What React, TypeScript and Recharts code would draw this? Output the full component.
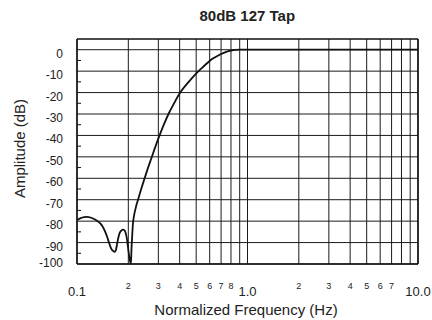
import React from "react";
import {
  LineChart,
  Line,
  XAxis,
  YAxis,
  CartesianGrid,
  ReferenceLine,
  Label,
} from "recharts";

// Filter response: normalized frequency (Hz) and amplitude (dB)
const frequency = [
  0.1, 0.105, 0.11, 0.114, 0.12, 0.125, 0.131, 0.137, 0.142, 0.146, 0.15,
  0.154, 0.158, 0.162, 0.166, 0.169, 0.172, 0.175, 0.178, 0.182, 0.186, 0.19,
  0.193, 0.196, 0.199, 0.202, 0.207, 0.209, 0.211, 0.213, 0.216, 0.22, 0.224,
  0.228, 0.237, 0.248, 0.26, 0.274, 0.289, 0.305, 0.323, 0.344, 0.371, 0.403,
  0.452, 0.516, 0.558, 0.604, 0.65, 0.7, 0.75, 0.8, 0.85, 0.9, 1, 2, 5, 10,
];
const amplitude = [
  -79.5, -78.6, -78.1, -78.0, -78.3, -78.9, -79.8, -81, -82.8, -84.8, -87.2,
  -90, -92.5, -93.8, -94.3, -93.5, -90.5, -87.5, -85.5, -84.4, -84, -84.3,
  -85.5, -88, -92, -96, -100, -92, -86, -81, -77.5, -74.5, -72, -70, -65.5,
  -60.5, -55.5, -50.3, -45, -40, -35, -30, -25, -20, -15, -10, -7.5, -5, -3.4,
  -2, -1, -0.4, -0.1, 0, 0, 0, 0, 0,
];

// Logarithmic x grid and its labels (empty string = unlabelled grid line)
const xTicks = [
  0.1, 0.2, 0.3, 0.4, 0.5, 0.6, 0.7, 0.8, 0.9, 1, 2, 3, 4, 5, 6, 7, 8, 9, 10,
];
const xTickLabels = [
  "0.1", "2", "3", "4", "5", "6", "7", "8", "", "1.0", "2", "3", "4", "5",
  "6", "7", "", "", "10.0",
];
const xMajorLabels = ["0.1", "1.0", "10.0"];

const yMajor = [0, -10, -20, -30, -40, -50, -60, -70, -80, -90, -100];
const yMinor = [-5, -15, -25, -35, -45, -55, -65, -75, -85, -95];
const yTicks = [...yMajor, ...yMinor].sort((a, b) => a - b);

const data = frequency.map((f, i) => ({ f, amp: amplitude[i] }));

const FONT = "'Liberation Sans', Arial, Helvetica, sans-serif";

const XTick = (props: any) => {
  const { x, y, payload } = props;
  const idx = xTicks.indexOf(payload.value);
  const label = idx >= 0 ? xTickLabels[idx] : "";
  if (!label) return <g />;
  const major = xMajorLabels.includes(label);
  return (
    <text
      x={x}
      y={major ? y + 32 : y + 25}
      textAnchor="middle"
      fontFamily={FONT}
      fontSize={major ? 13 : 9}
      fill="#222"
    >
      {label}
    </text>
  );
};

const YTick = (props: any) => {
  const { x, y, payload } = props;
  const v = payload.value as number;
  if (v % 10 !== 0) {
    return <line x1={x} x2={x + 4} y1={y} y2={y} stroke="#111" strokeWidth={1} />;
  }
  return (
    <text
      x={x - 14}
      y={v === -100 ? y + 3 : y + 8}
      textAnchor="end"
      fontFamily={FONT}
      fontSize={12}
      fill="#222"
    >
      {v}
    </text>
  );
};

export default function App() {
  return (
    <div
      style={{
        position: "absolute",
        left: 0,
        top: 0,
        width: 432,
        height: 320,
        background: "#fff",
      }}
    >
      <LineChart
        width={432}
        height={320}
        data={data}
        margin={{ top: 39, right: 14, bottom: 0, left: 0 }}
      >
        <CartesianGrid
          horizontal={false}
          vertical={true}
          stroke="#1a1a1a"
          strokeWidth={1}
        />
        {yMajor.map((v) => (
          <ReferenceLine
            key={`h${v}`}
            y={v}
            stroke="#1a1a1a"
            strokeWidth={1}
            ifOverflow="extendDomain"
          />
        ))}
        <XAxis
          dataKey="f"
          type="number"
          scale="log"
          domain={[0.1, 10]}
          ticks={xTicks}
          interval={0}
          allowDataOverflow
          tickSize={0}
          tickMargin={0}
          tick={<XTick />}
          axisLine={{ stroke: "#111", strokeWidth: 1.5 }}
          height={56}
        >
          <Label
            content={(p: any) => {
              const vb = p.viewBox || { x: 77, y: 264, width: 341, height: 56 };
              return (
                <text
                  x={vb.x + vb.width / 2 - 1.5}
                  y={vb.y + 51}
                  textAnchor="middle"
                  fontFamily={FONT}
                  fontSize={15}
                  fill="#222"
                >
                  Normalized Frequency (Hz)
                </text>
              );
            }}
          />
        </XAxis>
        <YAxis
          type="number"
          domain={[-100, 5]}
          ticks={yTicks}
          interval={0}
          allowDataOverflow
          tickSize={0}
          tickMargin={0}
          tick={<YTick />}
          axisLine={{ stroke: "#111", strokeWidth: 1.5 }}
          width={77}
        >
          <Label
            content={(p: any) => {
              const vb = p.viewBox || { x: 0, y: 39, width: 77, height: 225 };
              const cx = 24.5;
              const cy = vb.y + vb.height / 2 - 3;
              return (
                <text
                  x={cx}
                  y={cy}
                  transform={`rotate(-90, ${cx}, ${cy})`}
                  textAnchor="middle"
                  fontFamily={FONT}
                  fontSize={15}
                  fill="#222"
                >
                  Amplitude (dB)
                </text>
              );
            }}
          />
        </YAxis>
        <ReferenceLine y={5} stroke="#111" strokeWidth={1.5} />
        <ReferenceLine x={10} stroke="#111" strokeWidth={1.5} />
        <Line
          type="monotone"
          dataKey="amp"
          stroke="#111"
          strokeWidth={1.8}
          dot={false}
          isAnimationActive={false}
        />
      </LineChart>
      <svg
        width={432}
        height={40}
        style={{ position: "absolute", left: 0, top: 0, pointerEvents: "none" }}
      >
        <text
          x={247.3}
          y={21}
          textAnchor="middle"
          fontFamily={FONT}
          fontSize={15}
          fontWeight="bold"
          fill="#222"
        >
          80dB 127 Tap
        </text>
      </svg>
    </div>
  );
}
